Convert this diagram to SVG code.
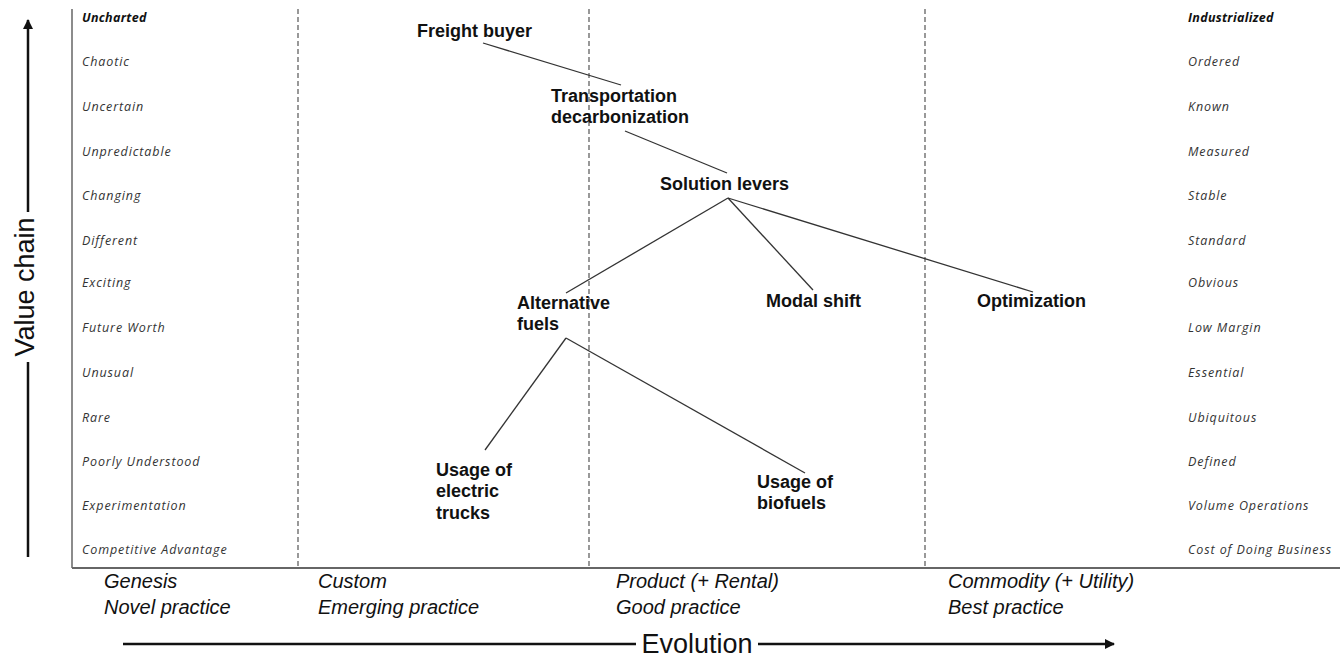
<svg xmlns="http://www.w3.org/2000/svg" width="1340" height="657" viewBox="0 0 1340 657">
<style>
.lab{font-family:"Open Sans","DejaVu Sans",sans-serif;font-style:italic;font-size:12.5px;letter-spacing:0.9px;fill:#333}
.labb{font-family:"Open Sans","DejaVu Sans",sans-serif;font-style:italic;font-weight:bold;font-size:12.5px;letter-spacing:0.3px;fill:#111}
.stage{font-family:"Liberation Sans",Arial,sans-serif;font-style:italic;font-size:20px;fill:#111}
.axis{font-family:"Liberation Sans",Arial,sans-serif;font-size:27px;fill:#111}
.node{font-family:"Liberation Sans",Arial,sans-serif;font-weight:bold;font-size:18px;fill:#111}
.dash{stroke:#555;stroke-width:1.2;stroke-dasharray:5 3;fill:none}
.edge{stroke:#333;stroke-width:1.3;fill:none}
</style>
<defs>
<marker id="ah" viewBox="0 0 10 10" refX="9" refY="5" markerWidth="4" markerHeight="4" orient="auto">
<path d="M0,0 L10,5 L0,10 z" fill="#111"/>
</marker>
</defs>
<rect width="1340" height="657" fill="#fff"/>
<g id="frame">
<line x1="72" y1="9" x2="72" y2="568" stroke="#666" stroke-width="1.5"/>
<line x1="72" y1="568" x2="1340" y2="568" stroke="#666" stroke-width="1.8"/>
<line class="dash" x1="298" y1="9" x2="298" y2="566"/>
<line class="dash" x1="589" y1="9" x2="589" y2="566"/>
<line class="dash" x1="925" y1="9" x2="925" y2="566"/>
</g>
<g id="value-chain-axis">
<line x1="28" y1="557" x2="28" y2="362" stroke="#111" stroke-width="2.5"/>
<line x1="28" y1="212" x2="28" y2="20" stroke="#111" stroke-width="2.5" marker-end="url(#ah)"/>
<text class="axis" transform="translate(34,287) rotate(-90)" text-anchor="middle">Value chain</text>
</g>
<g id="evolution-axis">
<line x1="123" y1="644" x2="636" y2="644" stroke="#111" stroke-width="2.5"/>
<line x1="758" y1="644" x2="1114" y2="644" stroke="#111" stroke-width="2.5" marker-end="url(#ah)"/>
<text class="axis" x="697" y="653" text-anchor="middle">Evolution</text>
</g>
<g id="left-labels">
<text class="labb" x="82" y="22">Uncharted</text>
<text class="lab" x="82" y="66">Chaotic</text>
<text class="lab" x="82" y="111">Uncertain</text>
<text class="lab" x="82" y="156">Unpredictable</text>
<text class="lab" x="82" y="200">Changing</text>
<text class="lab" x="82" y="245">Different</text>
<text class="lab" x="82" y="287">Exciting</text>
<text class="lab" x="82" y="332">Future Worth</text>
<text class="lab" x="82" y="377">Unusual</text>
<text class="lab" x="82" y="422">Rare</text>
<text class="lab" x="82" y="466">Poorly Understood</text>
<text class="lab" x="82" y="510">Experimentation</text>
<text class="lab" x="82" y="554">Competitive Advantage</text>
</g>
<g id="right-labels">
<text class="labb" x="1188" y="22">Industrialized</text>
<text class="lab" x="1188" y="66">Ordered</text>
<text class="lab" x="1188" y="111">Known</text>
<text class="lab" x="1188" y="156">Measured</text>
<text class="lab" x="1188" y="200">Stable</text>
<text class="lab" x="1188" y="245">Standard</text>
<text class="lab" x="1188" y="287">Obvious</text>
<text class="lab" x="1188" y="332">Low Margin</text>
<text class="lab" x="1188" y="377">Essential</text>
<text class="lab" x="1188" y="422">Ubiquitous</text>
<text class="lab" x="1188" y="466">Defined</text>
<text class="lab" x="1188" y="510">Volume Operations</text>
<text class="lab" x="1188" y="554">Cost of Doing Business</text>
</g>
<g id="stages">
<text class="stage" x="104" y="588">Genesis</text>
<text class="stage" x="104" y="614">Novel practice</text>
<text class="stage" x="318" y="588">Custom</text>
<text class="stage" x="318" y="614">Emerging practice</text>
<text class="stage" x="616" y="588">Product (+ Rental)</text>
<text class="stage" x="616" y="614">Good practice</text>
<text class="stage" x="948" y="588">Commodity (+ Utility)</text>
<text class="stage" x="948" y="614">Best practice</text>
</g>
<g id="connectors">
<line class="edge" x1="483" y1="43" x2="621" y2="85"/>
<line class="edge" x1="625" y1="131" x2="727" y2="173"/>
<line class="edge" x1="728" y1="198" x2="566" y2="293"/>
<line class="edge" x1="728" y1="198" x2="813" y2="290"/>
<line class="edge" x1="728" y1="198" x2="1033" y2="292"/>
<line class="edge" x1="566" y1="338" x2="485" y2="450"/>
<line class="edge" x1="566" y1="338" x2="805" y2="473"/>
</g>
<g id="node-freight-buyer"><text class="node" x="417" y="37">Freight buyer</text></g>
<g id="node-transportation-decarbonization"><text class="node" x="551" y="102">Transportation</text><text class="node" x="551" y="123">decarbonization</text></g>
<g id="node-solution-levers"><text class="node" x="660" y="190">Solution levers</text></g>
<g id="node-alternative-fuels"><text class="node" x="517" y="309">Alternative</text><text class="node" x="517" y="330">fuels</text></g>
<g id="node-modal-shift"><text class="node" x="766" y="307">Modal shift</text></g>
<g id="node-optimization"><text class="node" x="977" y="307">Optimization</text></g>
<g id="node-electric-trucks"><text class="node" x="436" y="476">Usage of</text><text class="node" x="436" y="497">electric</text><text class="node" x="436" y="519">trucks</text></g>
<g id="node-biofuels"><text class="node" x="757" y="488">Usage of</text><text class="node" x="757" y="509">biofuels</text></g>
</svg>
